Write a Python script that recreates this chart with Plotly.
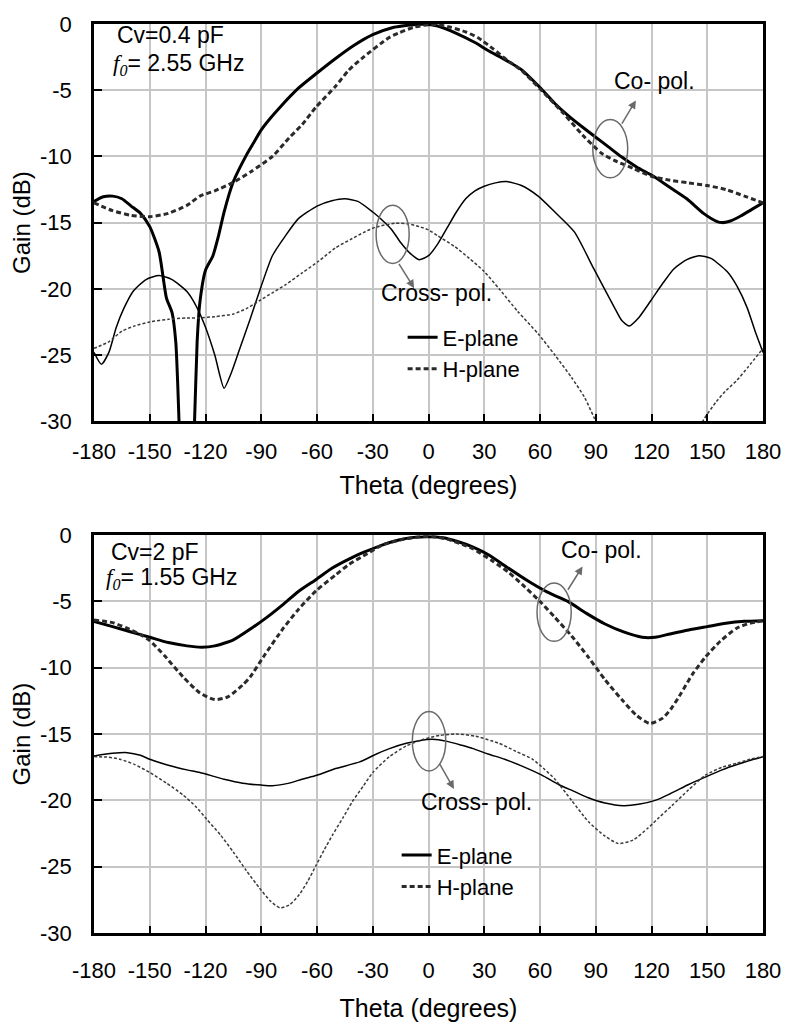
import plotly.graph_objects as go

# ---------------- Data: top panel (Cv = 0.4 pF, f0 = 2.55 GHz) ----------------
top_co_e_theta = [-180, -175, -170, -165, -160, -155, -150, -145, -141, -138, -136, -135, -134, -130,
                  -126, -124.5, -123, -120, -116, -113, -110, -105, -98, -94, -90, -85, -80, -70, -60, -50, -40,
                  -30, -20, -10, -3, 5, 15, 25, 32, 40, 50, 60, 68, 75, 83, 90, 97, 104, 112, 121,
                  130, 139, 148, 155, 158, 162, 168, 174, 180]
top_co_e_gain = [-13.4, -13.05, -13.0, -13.2, -13.75, -14.3, -15.3, -17.2, -20.7, -21.8, -24.0, -27.0, -31.0, -45.0,
                 -30.5, -24.0, -21.0, -18.6, -17.5, -16.0, -14.2, -11.9, -9.9, -8.95, -8.0, -7.1, -6.3, -4.85, -3.7, -2.6, -1.6,
                 -0.8, -0.3, -0.08, -0.02, -0.15, -0.7, -1.4, -2.0, -2.6, -3.45, -4.8, -6.0, -6.9, -7.8, -8.55, -9.3, -10.05, -10.8, -11.5,
                 -12.35, -13.2, -14.3, -14.9, -15.0, -14.9, -14.5, -14.0, -13.5]

top_co_h_theta = [-180, -170, -160, -150, -140, -130, -123, -115, -105, -95, -84, -75, -68, -60.7, -50, -43,
                  -35, -21.4, -16, -8, 0, 5, 12, 20, 26.7, 35, 42, 50, 60, 73, 83, 93, 100, 110, 120,
                  130, 140, 150, 160, 170, 180]
top_co_h_gain = [-13.5, -14.1, -14.45, -14.55, -14.3, -13.7, -13.0, -12.6, -11.95, -11.1, -10.0, -8.6, -7.6, -6.3, -4.7, -3.5,
                 -2.5, -1.04, -0.67, -0.25, -0.05, -0.05, -0.25, -0.6, -1.04, -1.9, -2.7, -3.5, -4.9, -6.8, -8.4, -9.75, -10.3, -10.9, -11.5,
                 -11.8, -12.0, -12.2, -12.5, -13.0, -13.5]

top_x_e_theta = [-180, -176, -172, -168, -164, -159, -152, -145, -138, -130, -125, -120, -115, -110, -106, -102,
                 -96, -91, -84, -77, -70, -60, -52, -45, -38, -30, -25, -20, -15, -10, -5, 0, 5, 10, 15,
                 20, 25, 30, 36, 42, 50, 59, 68, 78.5, 89, 100, 104, 108, 113, 119.6, 126, 132, 139,
                 145.5, 152, 160.7, 166, 171.4, 176, 180]
top_x_e_gain = [-24.8, -25.7, -24.8, -22.9, -21.5, -20.2, -19.3, -19.0, -19.3, -20.2, -21.3, -22.9, -25.0, -27.5, -26.3, -24.7,
                -22.3, -20.2, -17.5, -16.0, -14.7, -13.75, -13.35, -13.2, -13.4, -14.2, -14.8, -15.5, -16.5, -17.3, -17.8, -17.5, -16.6, -15.4, -14.2,
                -13.2, -12.6, -12.25, -12.0, -11.9, -12.2, -13.0, -14.2, -15.7, -18.5, -21.4, -22.4, -22.8, -22.2, -20.9, -19.6, -18.5, -17.8,
                -17.5, -17.7, -18.7, -19.8, -21.4, -23.3, -24.8]

top_x_h_theta = [-180, -172, -165, -158, -150, -140, -130, -123, -115, -105, -98, -91, -84, -77, -68, -59,
                 -50, -41, -35, -28.6, -18, -10.7, -5, 0, 5, 14, 22, 30, 38, 48, 59, 68, 77, 84, 89,
                 95, 105, 120, 135, 143, 148, 155, 160, 166, 172, 180]
top_x_h_gain = [-24.5, -24.0, -23.2, -22.8, -22.5, -22.3, -22.2, -22.2, -22.1, -21.9, -21.5, -20.9, -20.3, -19.7, -18.8, -17.9,
                -16.9, -16.2, -15.75, -15.35, -15.05, -15.1, -15.3, -15.55, -16.0, -16.8, -17.7, -18.7, -20.0, -21.7, -23.4, -25.0, -26.7, -28.2, -29.7,
                -31.5, -34.0, -36.0, -34.0, -31.5, -29.9, -28.5, -27.7, -26.9, -25.9, -24.5]

# ---------------- Data: bottom panel (Cv = 2 pF, f0 = 1.55 GHz) ----------------
bot_co_e_theta = [-180, -170, -160, -150, -140, -130, -122, -115, -105, -95, -87, -78, -70, -60, -52, -42,
                  -34, -25, -16, -8, 0, 8, 16, 24, 32.5, 42, 54, 64, 75, 85, 95, 105, 115, 122, 130,
                  140, 150, 160, 170, 180]
bot_co_e_gain = [-6.5, -6.9, -7.3, -7.7, -8.1, -8.35, -8.45, -8.35, -7.9, -7.0, -6.2, -5.2, -4.25, -3.3, -2.5, -1.75,
                 -1.25, -0.75, -0.37, -0.17, -0.12, -0.2, -0.5, -0.9, -1.5, -2.4, -3.5, -4.3, -5.0, -5.9, -6.7, -7.3, -7.7, -7.7, -7.45,
                 -7.15, -6.9, -6.65, -6.5, -6.45]

bot_co_h_theta = [-180, -170, -162.5, -155, -150, -142, -132, -123, -115, -108, -100, -96, -88, -78, -70, -60.5,
                  -50, -42.7, -33, -25, -15, -5, 2, 10, 23.5, 35, 43, 50.3, 60, 68, 77, 86, 95, 104, 112,
                  119, 126, 131, 136, 142, 149, 157, 166, 173, 180]
bot_co_h_gain = [-6.4, -6.6, -7.0, -7.5, -7.95, -9.1, -10.7, -11.9, -12.4, -12.2, -11.3, -10.7, -9.0, -7.0, -5.6, -4.2,
                 -3.0, -2.2, -1.4, -0.75, -0.35, -0.13, -0.1, -0.3, -1.0, -2.0, -2.8, -3.7, -5.0, -6.2, -7.6, -9.2, -10.9, -12.4, -13.6,
                 -14.2, -13.8, -13.0, -11.9, -10.5, -9.2, -8.0, -7.0, -6.65, -6.45]

bot_x_e_theta = [-180, -170, -162, -155, -150, -140, -130, -123, -110, -100, -90, -84, -75, -68, -60, -50,
                 -37, -28, -21, -12, -5, 2, 10, 18, 24, 32, 41, 50, 61, 70, 78, 86, 95, 105, 113,
                 122, 130, 140, 148, 158, 166, 175, 180]
bot_x_e_gain = [-16.65, -16.45, -16.4, -16.6, -16.9, -17.35, -17.7, -17.9, -18.4, -18.7, -18.85, -18.9, -18.7, -18.4, -18.1, -17.6,
                -17.1, -16.5, -16.1, -15.7, -15.5, -15.4, -15.55, -15.85, -16.1, -16.5, -16.9, -17.4, -18.1, -18.8, -19.3, -19.8, -20.2, -20.4, -20.3,
                -20.0, -19.5, -18.8, -18.3, -17.7, -17.3, -16.9, -16.7]

bot_x_h_theta = [-180, -172, -166, -158, -150, -141, -132, -125, -119.5, -112, -105, -98, -91, -85, -80, -75,
                 -69.5, -65, -60.5, -56, -51.6, -46, -41, -35, -30, -21, -12, -3, 6, 15, 25, 38, 47, 56,
                 62, 68, 77, 86, 95, 102, 110, 118, 124, 131, 140, 149, 158, 166, 173, 180]
bot_x_h_gain = [-16.7, -16.75, -16.9, -17.3, -17.9, -18.7, -19.6, -20.5, -21.4, -22.6, -23.9, -25.3, -26.6, -27.6, -28.1, -27.9,
                -27.1, -26.1, -24.9, -23.7, -22.6, -21.3, -20.1, -18.9, -17.9, -16.7, -15.9, -15.4, -15.1, -15.0, -15.15, -15.7, -16.3, -16.9,
                -17.6, -18.4, -20.0, -21.6, -22.7, -23.25, -23.0, -22.1, -21.3, -20.4, -19.2, -18.1, -17.5, -17.2, -16.9, -16.7]

x_ticks = [-180, -150, -120, -90, -60, -30, 0, 30, 60, 90, 120, 150, 180]
y_ticks = [0, -5, -10, -15, -20, -25, -30]

# ---------------- Styles ----------------
FONT = "Liberation Sans, Arial, sans-serif"
CO_E = dict(color="#000000", width=3)
CO_H = dict(color="#2a2a2a", width=3, dash="5px,3px")
X_E = dict(color="#000000", width=1.5)
X_H = dict(color="#3a3a3a", width=1.5, dash="3px,2px")
GRAY = "#6a6a6a"

fig = go.Figure()

def add_panel(xa, ya, leg, co_e, co_h, x_e, x_h):
    fig.add_trace(go.Scatter(x=co_e[0], y=co_e[1], mode="lines", line=dict(**CO_E, shape="spline", smoothing=0.6),
                             name="E-plane", xaxis=xa, yaxis=ya, legend=leg, showlegend=True))
    fig.add_trace(go.Scatter(x=co_h[0], y=co_h[1], mode="lines", line=dict(**CO_H, shape="spline", smoothing=0.6),
                             name="H-plane", xaxis=xa, yaxis=ya, legend=leg, showlegend=True))
    fig.add_trace(go.Scatter(x=x_e[0], y=x_e[1], mode="lines", line=dict(**X_E, shape="spline", smoothing=0.6),
                             name="E-plane cross", xaxis=xa, yaxis=ya, showlegend=False))
    fig.add_trace(go.Scatter(x=x_h[0], y=x_h[1], mode="lines", line=dict(**X_H, shape="spline", smoothing=0.6),
                             name="H-plane cross", xaxis=xa, yaxis=ya, showlegend=False))

add_panel("x", "y", "legend",
          (top_co_e_theta, top_co_e_gain), (top_co_h_theta, top_co_h_gain),
          (top_x_e_theta, top_x_e_gain), (top_x_h_theta, top_x_h_gain))
add_panel("x2", "y2", "legend2",
          (bot_co_e_theta, bot_co_e_gain), (bot_co_h_theta, bot_co_h_gain),
          (bot_x_e_theta, bot_x_e_gain), (bot_x_h_theta, bot_x_h_gain))

def xaxis_cfg(anchor, standoff, title_standoff):
    return dict(range=[-180, 180], tickmode="array", tickvals=x_ticks, ticktext=[str(t) for t in x_ticks],
                showgrid=True, gridcolor="#c6c6c6", gridwidth=2, zeroline=False,
                showline=True, linecolor="black", linewidth=2.5, mirror=True,
                ticks="inside", ticklen=7, tickwidth=2, tickcolor="black",
                tickfont=dict(family=FONT, size=22, color="black"), ticklabelstandoff=standoff,
                title=dict(text="Theta (degrees)", font=dict(family=FONT, size=25, color="black"), standoff=title_standoff),
                anchor=anchor)

def yaxis_cfg(anchor, domain):
    return dict(range=[-30, 0], tickmode="array", tickvals=y_ticks, ticktext=[str(t) for t in y_ticks],
                showgrid=True, gridcolor="#c6c6c6", gridwidth=2, zeroline=False,
                showline=True, linecolor="black", linewidth=2.5, mirror=True,
                ticks="inside", ticklen=8, tickwidth=2, tickcolor="black",
                tickfont=dict(family=FONT, size=22, color="black"), ticklabelstandoff=15,
                title=dict(text="Gain (dB)", font=dict(family=FONT, size=24, color="black"), standoff=3),
                domain=domain, anchor=anchor)

fig.update_layout(
    width=793, height=1031,
    margin=dict(l=94, r=27, t=16, b=95),
    paper_bgcolor="white", plot_bgcolor="white",
    font=dict(family=FONT, color="black"),
    xaxis=xaxis_cfg("y", 9, 14),
    yaxis=yaxis_cfg("x", [0.5630, 1.0]),
    xaxis2=xaxis_cfg("y2", 16, 18),
    yaxis2=yaxis_cfg("x2", [0.0, 0.4377]),
    legend=dict(x=(404 - 94) / 672, y=(936 - 312) / 920, xanchor="left", yanchor="top",
                bgcolor="rgba(0,0,0,0)", font=dict(family=FONT, size=22, color="black"),
                tracegroupgap=0, itemwidth=30),
    legend2=dict(x=(398 - 94) / 672, y=(936 - 836) / 920, xanchor="left", yanchor="top",
                 bgcolor="rgba(0,0,0,0)", font=dict(family=FONT, size=22, color="black"),
                 tracegroupgap=0, itemwidth=30),
)

# Ellipses marking curve groups
ellipses = [
    ("x", "y", 97.8, -9.42, 9.4, 2.2),
    ("x", "y", -19.3, -15.88, 8.9, 2.2),
    ("x2", "y2", 67.6, -5.81, 9.2, 2.2),
    ("x2", "y2", 0.3, -15.54, 9.0, 2.24),
]
for xr, yr, cx, cy, rx, ry in ellipses:
    fig.add_shape(type="circle", xref=xr, yref=yr, x0=cx - rx, x1=cx + rx, y0=cy - ry, y1=cy + ry,
                  line=dict(color=GRAY, width=1.5))

# Arrows (head, tail)
arrows = [
    ("x", "y", 111.6, -5.77, 103.6, -7.63),
    ("x", "y", -7.7, -19.95, -16.4, -18.0),
    ("x2", "y2", 82.9, -2.36, 74.5, -4.23),
    ("x2", "y2", 13.7, -19.14, 5.6, -17.15),
]
for xr, yr, hx, hy, tx, ty in arrows:
    fig.add_annotation(xref=xr, yref=yr, x=hx, y=hy, axref=xr, ayref=yr, ax=tx, ay=ty, text="",
                       showarrow=True, arrowhead=2, arrowsize=1.1, arrowwidth=1.5, arrowcolor=GRAY, standoff=0)

# Text labels
labels = [
    ("x", "y", 98.7, -4.34, "Co- pol."),
    ("x", "y", -26.4, -20.32, "Cross- pol."),
    ("x2", "y2", 70.3, -1.13, "Co- pol."),
    ("x2", "y2", -5.1, -20.15, "Cross- pol."),
    ("x", "y", -168.5, -0.8, "Cv=0.4 pF"),
    ("x", "y", -171.0, -3.03,
     "<span style='font-family:Liberation Serif'><i>f<sub>0</sub></i></span>= 2.55 GHz"),
    ("x2", "y2", -172.0, -1.29, "Cv=2 pF"),
    ("x2", "y2", -174.6, -3.3,
     "<span style='font-family:Liberation Serif'><i>f<sub>0</sub></i></span>= 1.55 GHz"),
]
for xr, yr, x, y, t in labels:
    fig.add_annotation(xref=xr, yref=yr, x=x, y=y, text=t, showarrow=False, xanchor="left", yanchor="middle",
                       font=dict(family=FONT, size=23, color="black"))

fig.write_html("out.html")
